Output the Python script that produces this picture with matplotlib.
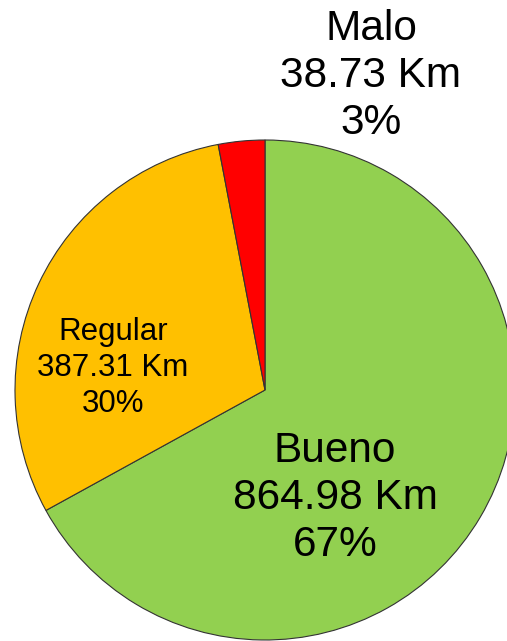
import matplotlib.pyplot as plt

# Datos del grafico
estados = ['Bueno', 'Regular', 'Malo']
km = [864.98, 387.31, 38.73]
colores = ['#92D050', '#FFC000', '#FF0000']

total = sum(km)
etiquetas = ['%s\n%.2f Km\n%d%%' % (e, v, round(v / total * 100)) for e, v in zip(estados, km)]

plt.rcParams['font.family'] = ['Liberation Sans', 'DejaVu Sans']

fig = plt.figure(figsize=(5.07, 6.41), dpi=100)
ax = fig.add_axes([0, 0, 1, 1])

# pixel coordinates, y up
ax.pie(km, colors=colores, startangle=90, counterclock=False,
       center=(265, 251), radius=250,
       wedgeprops={'edgecolor': '#333333', 'linewidth': 0.8})

# posiciones de las etiquetas
pos = [(335, 143), (113, 273), (371, 565)]
tam = [30.5, 22.5, 30.5]
for txt, (x, y), s in zip(etiquetas, pos, tam):
    ax.text(x, y, txt, ha='center', va='center', fontsize=s, linespacing=1.24)

ax.set_xlim(0, 507)
ax.set_ylim(0, 641)
ax.set_aspect('equal')
ax.axis('off')

fig.savefig('out.png', dpi=100)
